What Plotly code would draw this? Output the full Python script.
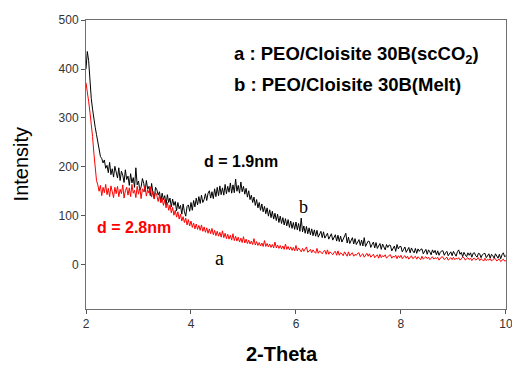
import plotly.graph_objects as go

two_theta = [
    2.000, 2.025, 2.050, 2.075, 2.100, 2.125, 2.150, 2.175,
    2.200, 2.225, 2.250, 2.275, 2.300, 2.325, 2.350, 2.375,
    2.400, 2.425, 2.450, 2.475, 2.500, 2.525, 2.550, 2.575,
    2.600, 2.625, 2.650, 2.675, 2.700, 2.725, 2.750, 2.775,
    2.800, 2.825, 2.850, 2.875, 2.900, 2.925, 2.950, 2.975,
    3.000, 3.025, 3.050, 3.075, 3.100, 3.125, 3.150, 3.175,
    3.200, 3.225, 3.250, 3.275, 3.300, 3.325, 3.350, 3.375,
    3.400, 3.425, 3.450, 3.475, 3.500, 3.525, 3.550, 3.575,
    3.600, 3.625, 3.650, 3.675, 3.700, 3.725, 3.750, 3.775,
    3.800, 3.825, 3.850, 3.875, 3.900, 3.925, 3.950, 3.975,
    4.000, 4.025, 4.050, 4.075, 4.100, 4.125, 4.150, 4.175,
    4.200, 4.225, 4.250, 4.275, 4.300, 4.325, 4.350, 4.375,
    4.400, 4.425, 4.450, 4.475, 4.500, 4.525, 4.550, 4.575,
    4.600, 4.625, 4.650, 4.675, 4.700, 4.725, 4.750, 4.775,
    4.800, 4.825, 4.850, 4.875, 4.900, 4.925, 4.950, 4.975,
    5.000, 5.025, 5.050, 5.075, 5.100, 5.125, 5.150, 5.175,
    5.200, 5.225, 5.250, 5.275, 5.300, 5.325, 5.350, 5.375,
    5.400, 5.425, 5.450, 5.475, 5.500, 5.525, 5.550, 5.575,
    5.600, 5.625, 5.650, 5.675, 5.700, 5.725, 5.750, 5.775,
    5.800, 5.825, 5.850, 5.875, 5.900, 5.925, 5.950, 5.975,
    6.000, 6.025, 6.050, 6.075, 6.100, 6.125, 6.150, 6.175,
    6.200, 6.225, 6.250, 6.275, 6.300, 6.325, 6.350, 6.375,
    6.400, 6.425, 6.450, 6.475, 6.500, 6.525, 6.550, 6.575,
    6.600, 6.625, 6.650, 6.675, 6.700, 6.725, 6.750, 6.775,
    6.800, 6.825, 6.850, 6.875, 6.900, 6.925, 6.950, 6.975,
    7.000, 7.025, 7.050, 7.075, 7.100, 7.125, 7.150, 7.175,
    7.200, 7.225, 7.250, 7.275, 7.300, 7.325, 7.350, 7.375,
    7.400, 7.425, 7.450, 7.475, 7.500, 7.525, 7.550, 7.575,
    7.600, 7.625, 7.650, 7.675, 7.700, 7.725, 7.750, 7.775,
    7.800, 7.825, 7.850, 7.875, 7.900, 7.925, 7.950, 7.975,
    8.000, 8.025, 8.050, 8.075, 8.100, 8.125, 8.150, 8.175,
    8.200, 8.225, 8.250, 8.275, 8.300, 8.325, 8.350, 8.375,
    8.400, 8.425, 8.450, 8.475, 8.500, 8.525, 8.550, 8.575,
    8.600, 8.625, 8.650, 8.675, 8.700, 8.725, 8.750, 8.775,
    8.800, 8.825, 8.850, 8.875, 8.900, 8.925, 8.950, 8.975,
    9.000, 9.025, 9.050, 9.075, 9.100, 9.125, 9.150, 9.175,
    9.200, 9.225, 9.250, 9.275, 9.300, 9.325, 9.350, 9.375,
    9.400, 9.425, 9.450, 9.475, 9.500, 9.525, 9.550, 9.575,
    9.600, 9.625, 9.650, 9.675, 9.700, 9.725, 9.750, 9.775,
    9.800, 9.825, 9.850, 9.875, 9.900, 9.925, 9.950, 9.975,
    10.000,
]

# b : PEO/Cloisite 30B (Melt) - black trace
melt = [
    400, 436, 418, 372, 340, 318, 296, 281,
    266, 248, 236, 221, 217, 208, 214, 197,
    203, 188, 209, 184, 196, 179, 201, 186,
    177, 198, 172, 191, 183, 168, 194, 174,
    181, 162, 186, 167, 178, 158, 198, 163,
    171, 152, 159, 176, 166, 149, 172, 154,
    160, 141, 166, 147, 135, 158, 153, 142,
    149, 128, 146, 133, 141, 122, 143, 127,
    136, 118, 134, 121, 129, 110, 127, 114,
    121, 103, 124, 108, 99, 119, 122, 109,
    127, 111, 131, 118, 136, 122, 139, 125,
    142, 127, 133, 145, 131, 146, 151, 136,
    149, 135, 155, 139, 158, 141, 161, 143,
    157, 142, 164, 145, 160, 148, 167, 146,
    163, 147, 175, 150, 162, 146, 169, 149,
    160, 144, 156, 138, 151, 133, 142, 127,
    138, 121, 133, 116, 127, 111, 124, 108,
    119, 104, 116, 99, 112, 96, 109, 93,
    105, 90, 103, 86, 99, 84, 96, 81,
    94, 79, 92, 76, 89, 74, 86, 72,
    87, 71, 84, 68, 95, 67, 79, 64,
    78, 63, 75, 61, 73, 59, 71, 58,
    70, 56, 62, 68, 55, 67, 54, 61,
    64, 52, 58, 63, 50, 55, 61, 48,
    60, 47, 58, 46, 51, 57, 64, 44,
    56, 43, 49, 55, 42, 53, 41, 47,
    51, 39, 50, 38, 55, 37, 44, 48,
    47, 35, 41, 46, 34, 45, 33, 39,
    43, 31, 42, 36, 30, 41, 35, 40,
    39, 28, 33, 38, 27, 41, 32, 37,
    37, 26, 31, 36, 25, 30, 35, 24,
    34, 28, 24, 33, 23, 32, 27, 31,
    32, 22, 27, 31, 21, 30, 26, 20,
    30, 24, 29, 20, 28, 19, 25, 28,
    28, 19, 24, 27, 18, 23, 26, 18,
    27, 22, 17, 26, 30, 21, 25, 16,
    25, 20, 16, 24, 19, 24, 15, 23,
    24, 18, 15, 23, 22, 14, 20, 22,
    23, 14, 19, 22, 13, 21, 18, 13,
    22, 17, 13, 21, 12, 20, 24, 16,
    18,
]

# a : PEO/Cloisite 30B (scCO2) - red trace
scco2 = [
    372, 356, 334, 312, 291, 262, 228, 196,
    172, 163, 150, 162, 141, 158, 147, 164,
    143, 156, 139, 161, 148, 137, 158, 145,
    160, 139, 154, 145, 163, 136, 151, 158,
    142, 157, 139, 164, 146, 152, 137, 160,
    144, 158, 135, 155, 149, 161, 140, 153,
    146, 159, 138, 150, 134, 148, 141, 129,
    142, 126, 136, 121, 133, 116, 127, 111,
    122, 106, 117, 101, 111, 97, 108, 93,
    103, 89, 98, 86, 95, 81, 92, 79,
    89, 76, 85, 73, 83, 72, 80, 70,
    81, 68, 77, 66, 75, 64, 73, 63,
    74, 61, 70, 59, 68, 58, 66, 56,
    69, 55, 64, 53, 62, 52, 60, 50,
    63, 49, 58, 48, 56, 46, 54, 45,
    57, 44, 52, 43, 50, 42, 48, 41,
    53, 40, 47, 39, 45, 38, 44, 37,
    49, 37, 43, 36, 42, 35, 41, 34,
    46, 34, 40, 33, 39, 32, 38, 31,
    42, 31, 37, 30, 36, 29, 35, 28,
    39, 28, 34, 31, 26, 33, 27, 32,
    36, 25, 29, 31, 24, 30, 26, 23,
    33, 23, 28, 25, 22, 27, 29, 21,
    30, 21, 26, 23, 20, 25, 27, 19,
    28, 19, 24, 22, 18, 26, 21, 17,
    26, 18, 22, 24, 17, 21, 19, 23,
    24, 16, 20, 22, 15, 19, 23, 17,
    22, 15, 19, 21, 14, 18, 20, 13,
    21, 14, 18, 16, 20, 13, 17, 19,
    20, 13, 17, 15, 19, 12, 18, 14,
    19, 12, 16, 18, 13, 17, 11, 15,
    18, 12, 15, 17, 11, 16, 13, 10,
    17, 11, 14, 16, 12, 15, 10, 14,
    16, 11, 14, 12, 15, 9, 13, 16,
    15, 10, 13, 15, 9, 12, 14, 10,
    15, 10, 13, 11, 14, 9, 12, 15,
    14, 9, 12, 14, 10, 13, 8, 12,
    13, 9, 11, 14, 8, 12, 10, 7,
    13, 8, 11, 9, 12, 7, 10, 12,
    12, 7, 10, 11, 6, 9, 11, 7,
    8,
]

x_ticks = [2, 4, 6, 8, 10]
y_ticks = [0, 100, 200, 300, 400, 500]

fig = go.Figure()
fig.add_trace(go.Scatter(x=two_theta, y=melt, mode="lines",
                         line=dict(color="#000000", width=1), name="Melt"))
fig.add_trace(go.Scatter(x=two_theta, y=scco2, mode="lines",
                         line=dict(color="#ff0000", width=1), name="scCO2"))

axis_common = dict(showgrid=False, zeroline=False, showline=True, mirror=True,
                   linecolor="#707070", linewidth=1, ticks="outside",
                   tickcolor="#555555", ticklen=4, ticklabeloverflow="allow",
                   tickfont=dict(family="Arial, Liberation Sans", size=12, color="#333333"))

fig.update_xaxes(range=[2, 10.001], tickvals=x_ticks, **axis_common)
fig.update_yaxes(range=[-91, 500.5], tickvals=y_ticks, **axis_common)

sans = "Arial, Liberation Sans"
serif = "Liberation Serif, Times New Roman"
ann = [
    dict(x=4.78, y=428, xref="x", yref="y", xanchor="left", yanchor="middle",
         text="a : PEO/Cloisite 30B(scCO<sub>2</sub>)", showarrow=False,
         font=dict(family=sans, size=18.5, color="#000000", weight="bold")),
    dict(x=4.78, y=368, xref="x", yref="y", xanchor="left", yanchor="middle",
         text="b : PEO/Cloisite 30B(Melt)", showarrow=False,
         font=dict(family=sans, size=18.5, color="#000000", weight="bold")),
    dict(x=4.96, y=210, xref="x", yref="y", xanchor="center", yanchor="middle",
         text="d = 1.9nm", showarrow=False,
         font=dict(family=sans, size=16, color="#000000", weight="bold")),
    dict(x=2.905, y=75, xref="x", yref="y", xanchor="center", yanchor="middle",
         text="d = 2.8nm", showarrow=False,
         font=dict(family=sans, size=16, color="#ff0000", weight="bold")),
    dict(x=6.15, y=118, xref="x", yref="y", xanchor="center", yanchor="middle",
         text="b", showarrow=False,
         font=dict(family=serif, size=18, color="#000000")),
    dict(x=4.55, y=13, xref="x", yref="y", xanchor="center", yanchor="middle",
         text="a", showarrow=False,
         font=dict(family=serif, size=20, color="#000000")),
    dict(x=-0.155, y=0.5, xref="paper", yref="paper", xanchor="center", yanchor="middle",
         text="Intensity", textangle=-90, showarrow=False,
         font=dict(family=sans, size=20, color="#000000")),
    dict(x=0.467, y=-0.155, xref="paper", yref="paper", xanchor="center", yanchor="middle",
         text="2-Theta", showarrow=False,
         font=dict(family=sans, size=20, color="#000000", weight="bold")),
]

# page body has an 8px margin, so the figure is 8px smaller than the window
fig.update_layout(width=512, height=358, margin=dict(l=78, r=14, t=5, b=57),
                  paper_bgcolor="white", plot_bgcolor="white", showlegend=False,
                  annotations=ann)

fig.write_html("out.html")
